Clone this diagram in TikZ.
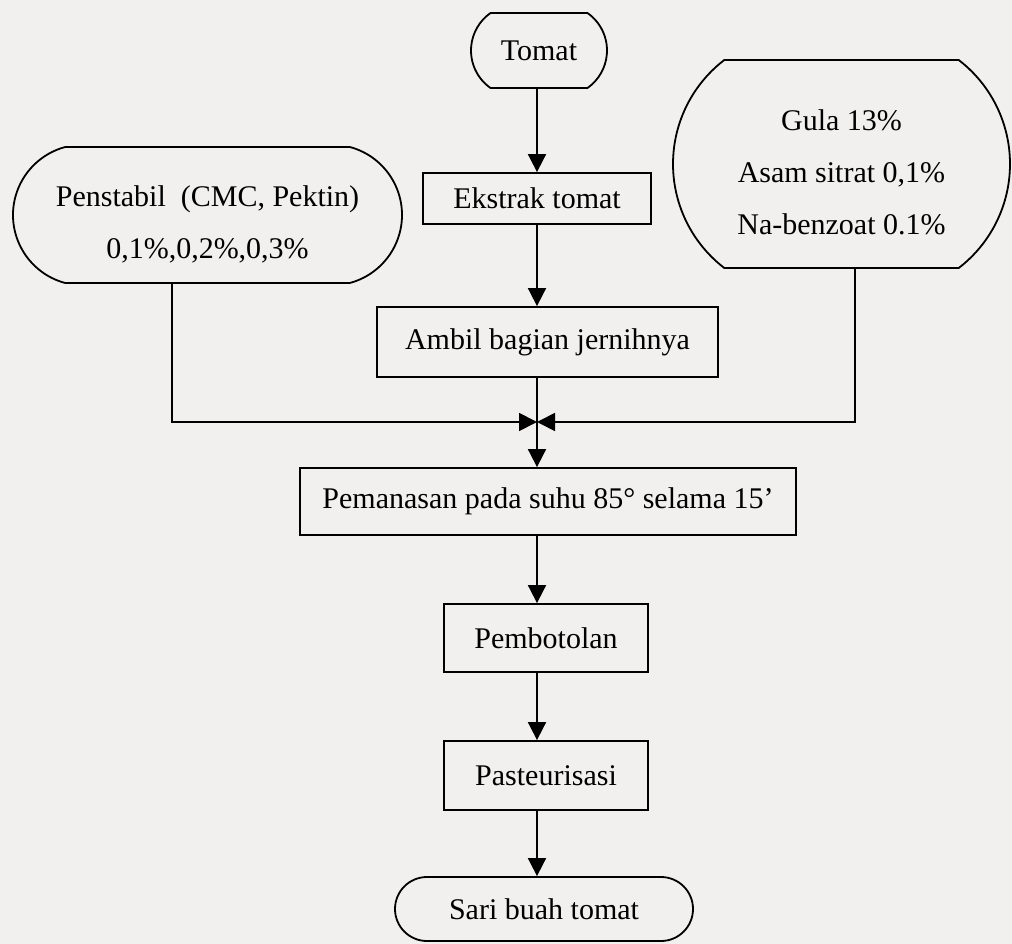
\documentclass[tikz,border=0pt]{standalone}
\usepackage{fontspec}
\setmainfont{Liberation Serif}
\usetikzlibrary{arrows.meta,shapes.misc}
\definecolor{paper}{RGB}{241,240,239}

\begin{document}
\begin{tikzpicture}[x=1pt, y=-1pt, line width=1.8pt,
	box/.style={draw, rectangle, inner sep=0pt, minimum height=68pt, font=\fontsize{30}{52}\selectfont},
	term/.style={draw, rounded rectangle, inner sep=0pt, align=center, font=\fontsize{30}{52}\selectfont},
	flow/.style={-{Triangle[length=18pt, width=18pt]}}]
	\fill[paper] (0,0) rectangle (1012,944);
	\useasboundingbox (0,0) rectangle (1012,944);
	\coordinate (spine) at (537,0);
	\coordinate (merge) at (537,422);
	% main column
	\node[term, minimum width=136pt, minimum height=75pt, rounded rectangle arc length=110] (tomat) at (539,50.5) {Tomat};
	\node[box, minimum width=228pt, minimum height=51pt] (ekstrak) at (537,198.5) {Ekstrak tomat};
	\node[box, minimum width=341pt, minimum height=70pt] (ambil) at (547.5,342) {Ambil bagian jernihnya};
	\node[box, minimum width=496pt, minimum height=67pt] (panas) at (548,501.5) {Pemanasan pada suhu 85° selama 15’};
	\node[box, minimum width=204pt] (botol) at (546,638) {Pembotolan};
	\node[box, minimum width=204pt, minimum height=69pt] (pasteur) at (546,775.5) {Pasteurisasi};
	\node[term, minimum width=298pt, minimum height=64pt] (sari) at (544,909) {Sari buah tomat};
	% side inputs
	\node[term, minimum width=389pt, minimum height=136pt, rounded rectangle arc length=150] (penstabil) at (207.5,215) {\rule{0pt}{39pt}Penstabil~ (CMC, Pektin)\\0,1\%,0,2\%,0,3\%};
	\node[term, minimum width=337pt, minimum height=208pt, rounded rectangle arc length=105] (gula) at (841.5,164) {\rule{0pt}{37pt}Gula 13\%\\Asam sitrat 0,1\%\\Na-benzoat 0.1\%};
	\draw[flow] (tomat.south -| spine) -- (ekstrak.north -| spine);
	\draw[flow] (ekstrak.south -| spine) -- (ambil.north -| spine);
	\draw[flow] (ambil.south -| spine) -- (panas.north -| spine);
	\draw[flow] ([xshift=-35.5pt]penstabil.south) |- (merge);
	\draw[flow] ([xshift=13.5pt]gula.south) |- (merge);
	\draw[flow] (panas.south -| spine) -- (botol.north -| spine);
	\draw[flow] (botol.south -| spine) -- (pasteur.north -| spine);
	\draw[flow] (pasteur.south -| spine) -- (sari.north -| spine);
\end{tikzpicture}
\end{document}
